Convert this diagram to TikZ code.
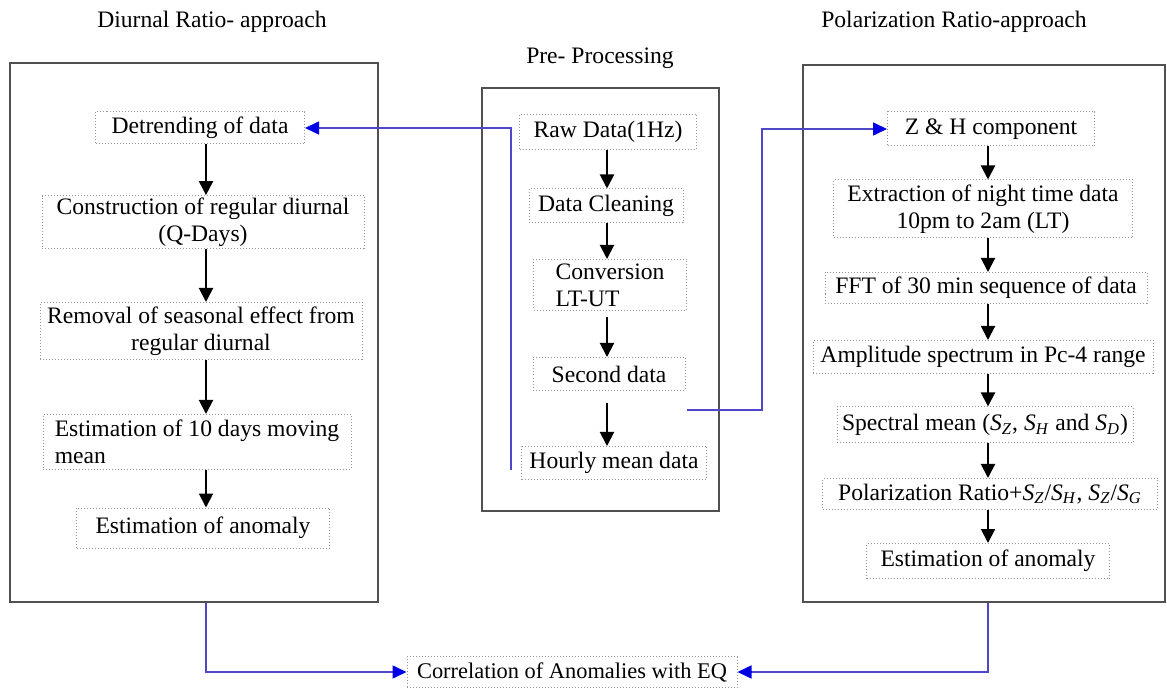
\documentclass[tikz,border=0pt]{standalone}
\usepackage{fontspec}
\setmainfont{Liberation Serif}
\usetikzlibrary{arrows.meta,calc}
\definecolor{bl}{RGB}{80,70,200}
\definecolor{bh}{RGB}{0,0,230}
\definecolor{fr}{RGB}{80,80,80}
\definecolor{dt}{RGB}{150,150,150}
\newcommand{\Ssub}[1]{\textit{S}\textsubscript{\textit{#1}}}
\begin{document}
\begin{tikzpicture}[x=0.5pt,y=-0.5pt,
 font=\fontsize{11.8}{13.5}\selectfont,
 frame/.style={draw=fr, line width=1pt, inner sep=0pt},
 pbox/.style={draw=dt, densely dotted, line width=0.5pt, inner sep=1pt, align=center},
 ttl/.style={inner sep=0pt},
 darr/.style={draw=black, line width=1pt, -{Triangle[width=7pt,length=7pt]}},
 barr/.style={draw=bl, line width=0.8pt, -{Triangle[width=6.5pt,length=7pt,fill=bh,color=bh]}}
]
\useasboundingbox (0,0) rectangle (1167,689);

% titles
\node[ttl] (tL) at (212,22) {Diurnal Ratio- approach};
\node[ttl] (tM) at (600,58) {Pre- Processing};
\node[ttl] (tR) at (954,22) {Polarization Ratio-approach};

% frames
\node[frame, minimum width=184pt, minimum height=269.5pt] (L) at (194,332.5) {};
\node[frame, minimum width=118.5pt, minimum height=211.5pt] (M) at (600.5,299.5) {};
\node[frame, minimum width=181pt, minimum height=268.5pt] (R) at (984,333.5) {};

% column coordinates
\coordinate (colL) at (206,0);
\coordinate (colM) at (607,0);
\coordinate (colR) at (988,0);

% left column
\node[pbox, minimum width=104.5pt, minimum height=16pt] (det) at (200,128) {Detrending of data};
\node[pbox, minimum width=161pt, minimum height=26pt] (con) at (203,222) {Construction of regular diurnal\\(Q-Days)};
\node[pbox, minimum width=161pt, minimum height=28.5pt] (rem) at (201,331) {Removal of seasonal effect from\\regular diurnal};
\node[pbox, minimum width=154pt, minimum height=27.5pt, align=left] (est) at (197,442) {Estimation of 10 days moving\\mean\hspace*{9.6em}};
\node[pbox, minimum width=126.5pt, minimum height=20pt] (anL) at (203,528) {Estimation of anomaly};

% middle column
\node[pbox, minimum width=88.5pt, minimum height=17.5pt] (raw) at (608,132) {Raw Data(1Hz)};
\node[pbox, minimum width=77pt, minimum height=17pt] (cln) at (606,206) {Data Cleaning};
\node[pbox, minimum width=76.5pt, minimum height=25.5pt, align=left] (cnv) at (610,285) {Conversion\\LT-UT};
\node[pbox, minimum width=76pt, minimum height=16.5pt] (sec) at (609,374) {Second data};
\node[pbox, minimum width=92.5pt, minimum height=16.5pt] (hrl) at (614,463) {Hourly mean data};

% right column
\node[pbox, minimum width=103.5pt, minimum height=17pt] (zh) at (991,129) {Z \& H component};
\node[pbox, minimum width=149.5pt, minimum height=29pt] (ext) at (983,209) {Extraction of night time data\\10pm to 2am (LT)};
\node[pbox, minimum width=161pt, minimum height=15.5pt] (fft) at (986,288) {FFT of 30 min sequence of data};
\node[pbox, minimum width=170pt, minimum height=16.5pt] (amp) at (983,357) {Amplitude spectrum in Pc-4 range};
\node[pbox, minimum width=148pt, minimum height=18pt] (spm) at (985,425) {Spectral mean (\Ssub{Z}, \Ssub{H} and \Ssub{D})};
\node[pbox, minimum width=167.5pt, minimum height=15.5pt] (pol) at (990,494) {Polarization Ratio+\Ssub{Z}/\Ssub{H}, \Ssub{Z}/\Ssub{G}};
\node[pbox, minimum width=121.5pt, minimum height=17.5pt] (anR) at (988,561) {Estimation of anomaly};

% bottom
\node[pbox, minimum width=165pt, minimum height=15.5pt, font=\fontsize{11.2}{13}\selectfont] (cor) at (572,672) {Correlation of Anomalies with EQ};

% black arrows
\draw[darr] (det.south -| colL) -- (con.north -| colL);
\draw[darr] (con.south -| colL) -- (rem.north -| colL);
\draw[darr] (rem.south -| colL) -- (est.north -| colL);
\draw[darr] (est.south -| colL) -- (anL.north -| colL);

\draw[darr] (raw.south -| colM) -- (cln.north -| colM);
\draw[darr] (cln.south -| colM) -- (cnv.north -| colM);
\draw[darr] (cnv.south -| colM) ++(0,6) -- (sec.north -| colM);
\draw[darr] (sec.south -| colM) ++(0,12) -- (hrl.north -| colM);

\draw[darr] (zh.south -| colR) -- (ext.north -| colR);
\draw[darr] (ext.south -| colR) -- (fft.north -| colR);
\draw[darr] (fft.south -| colR) -- (amp.north -| colR);
\draw[darr] (amp.south -| colR) -- (spm.north -| colR);
\draw[darr] (spm.south -| colR) -- (pol.north -| colR);
\draw[darr] (pol.south -| colR) -- (anR.north -| colR);

% blue connectors
\coordinate (h1) at (511,470);
\coordinate (s1) at (687,410);
\coordinate (s2) at (762,410);
\draw[barr] (h1) |- (det.east);
\draw[barr] (s1) -- (s2) |- (zh.west);
\draw[barr] (L.south -| colL) |- (cor.west);
\draw[barr] (R.south -| colR) |- (cor.east);
\end{tikzpicture}
\end{document}
